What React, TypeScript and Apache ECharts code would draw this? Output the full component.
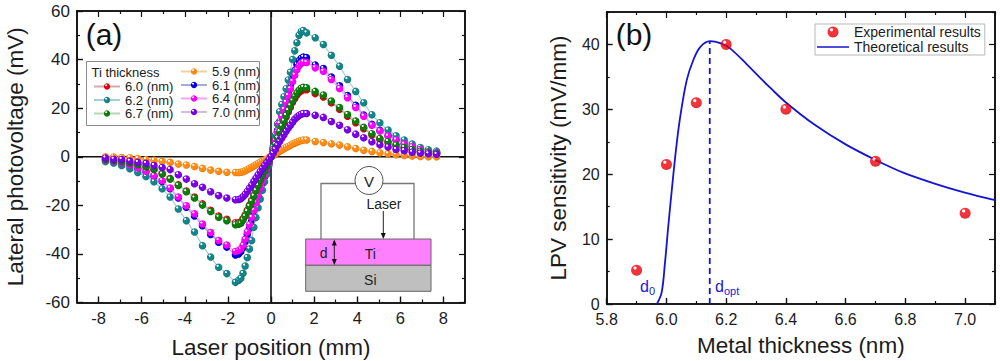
import React, { useEffect, useRef } from "react";
import * as echarts from "echarts";

const FONT = "'Liberation Sans', Arial, sans-serif";
const INK = "#1c1c1c";

// Panel (a): laser positions
const leftTailX = [-7.68, -7.3, -6.93, -6.55, -6.18, -5.8, -5.43, -5.05, -4.68, -4.3, -3.93, -3.55, -3.18, -2.8, -2.43, -2.05, -1.65];
const centerX = [-1.5, -1.4, -1.3, -1.2, -1.1, -1.0, -0.9, -0.8, -0.7, -0.6, -0.5, -0.4, -0.3, -0.2, -0.1, 0, 0.1, 0.2, 0.3, 0.4, 0.5, 0.6, 0.7, 0.8, 0.9, 1.0, 1.1, 1.2, 1.3, 1.4, 1.5];
const rightTailX = [1.65, 2.05, 2.43, 2.8, 3.18, 3.55, 3.93, 4.3, 4.68, 5.05, 5.43, 5.8, 6.18, 6.55, 6.93, 7.3, 7.68];
const positions = [...leftTailX, ...centerX, ...rightTailX];

// Panel (a): photovoltage per Ti thickness
const v59 = [0, -0.1, -0.3, -0.4, -0.7, -1.2, -1.5, -1.9, -2.3, -3, -3.4, -4, -4.8, -5.5, -6, -6.4, -6.5,
  -6.5, -6.4, -6.2, -5.8, -5.3, -4.8, -4.3, -3.8, -3.3, -2.8, -2.3, -1.8, -1.4, -0.9, -0.5, 0,
  0.5, 1.1, 1.7, 2.3, 2.8, 3.3, 3.8, 4.2, 4.7, 5.2, 5.6, 6, 6.4, 6.7, 6.9,
  6.9, 6.3, 5.9, 5.3, 4.8, 4.1, 3.4, 2.7, 2.2, 1.6, 1.2, 0.8, 0.5, 0.3, 0.1, 0, 0];
const v60 = [-0.9, -1.3, -1.9, -2.5, -3.2, -4.1, -5.1, -6.9, -9, -11.5, -14.1, -16.6, -19.4, -22, -24.4, -25.7, -27.2,
  -27.2, -26.8, -25.5, -24, -22, -20, -18, -15.8, -13.6, -11.5, -9.4, -7.5, -5.6, -3.7, -1.9, 0,
  2.2, 4.8, 7.4, 10, 12.2, 14.2, 16.4, 18.4, 20.4, 22.4, 24, 25.4, 26.6, 27.2, 27.6,
  27.6, 26, 24.6, 22.2, 19.6, 16.7, 14, 11.5, 9, 7.1, 5.8, 4.5, 3.5, 2.7, 2.1, 1.6, 1.2];
const v61 = [-1.5, -2, -2.7, -3.6, -4.8, -6.2, -8, -10.2, -13.2, -17, -20.8, -24.4, -28.4, -32, -35.2, -37.2, -40.4,
  -40, -39, -37.5, -35, -32, -29.5, -26.5, -23, -20, -16.8, -13.8, -11, -8.2, -5.6, -2.8, 0,
  3.2, 7, 10.8, 14.4, 17.5, 20.5, 23.5, 26.5, 29.5, 33, 35.5, 38, 39.5, 40.5, 41,
  40.8, 37.8, 36.3, 32.8, 29.2, 25.2, 21.2, 17.2, 13.4, 10.9, 8.7, 7.1, 5.4, 4.2, 3.1, 2.1, 1.7];
const v62 = [-2, -2.6, -3.6, -4.9, -6.5, -8.1, -10.3, -13.2, -16.6, -21.5, -26.3, -31, -36.6, -41.3, -45.5, -48.1, -51.7,
  -50.8, -50, -48, -45, -41.5, -38, -34.5, -29, -25, -21, -17.4, -13.8, -10.3, -7.2, -3.6, 0,
  4, 9, 13.5, 18.5, 21.5, 24.7, 28, 31.6, 34.8, 40, 43.6, 46.9, 50, 51.5, 52,
  51, 49, 46.2, 41.8, 37.3, 31.8, 26.9, 22.2, 17.3, 14, 11, 8.6, 6.9, 5.2, 3.8, 2.9, 2.3];
const v64 = [-1.3, -1.8, -2.5, -3.4, -4.6, -6, -7.8, -9.9, -12.9, -16.6, -20.2, -23.5, -27.7, -31.2, -34.5, -36.3, -39,
  -38.6, -38, -36.5, -34, -31, -28, -25, -22, -19, -16, -13, -10.3, -7.8, -5.2, -2.6, 0,
  3, 6.6, 10.2, 13.6, 16.6, 19.5, 22.4, 25.2, 28, 31, 33.6, 35.8, 37.5, 38.5, 39,
  38.8, 36.6, 35.2, 31.8, 28.1, 24.3, 20.3, 16.7, 13, 10.6, 8.5, 6.9, 5.2, 4.1, 3, 2, 1.6];
const v67 = [-1, -1.4, -2, -2.6, -3.3, -4.2, -5.3, -7.1, -9.2, -11.8, -14.4, -17, -19.9, -22.5, -24.9, -26.3, -28,
  -27.8, -27.4, -26, -24.5, -22.6, -20.4, -18.4, -16.2, -14, -11.8, -9.7, -7.7, -5.8, -3.9, -2, 0,
  2.3, 5, 7.7, 10.3, 12.6, 14.7, 17, 19, 21, 23, 24.8, 26.2, 27.4, 28.2, 28.6,
  28.4, 26.9, 25.4, 22.9, 20.3, 17.4, 14.7, 12.1, 9.5, 7.5, 6.2, 4.8, 3.8, 3, 2.3, 1.8, 1.4];
const v70 = [-0.5, -1, -1.1, -1.8, -2.3, -2.7, -3.6, -4.4, -5.3, -7.4, -9.2, -11.1, -12.6, -14.4, -16, -17, -17.7,
  -17.6, -17.3, -16.5, -15.5, -14.3, -13, -11.7, -10.2, -8.8, -7.5, -6.2, -4.9, -3.6, -2.4, -1.2, 0,
  1.4, 3, 4.7, 6.3, 7.7, 9.1, 10.5, 11.8, 13, 14.2, 15.4, 16.3, 17, 17.5, 17.8,
  17.8, 17.1, 16.2, 14.5, 13, 11.1, 9.3, 7.8, 6.2, 4.9, 4, 3, 2.5, 1.9, 1.5, 1.2, 1];

const thicknessNames = ["5.9 (nm)", "6.0 (nm)", "6.1 (nm)", "6.2 (nm)", "6.4 (nm)", "6.7 (nm)", "7.0 (nm)"];
const thicknessValues = [v59, v60, v61, v62, v64, v67, v70];
const ballColors = ["#ff8a14", "#e8000a", "#0000e6", "#14858a", "#ff00ff", "#0a7d0a", "#7a00e8"];
const ballRims = ["#e07000", "#b00008", "#0000b0", "#0e6a6e", "#d000d0", "#066006", "#5e00b8"];
const lineColors = ["#f5cf9e", "#d9a6ac", "#a9a9d6", "#a6cfd0", "#f2a6f2", "#b5d6b5", "#d3bdd8"];

// Panel (b)
const expThickness = [5.9, 6.0, 6.1, 6.2, 6.4, 6.7, 7.0];
const expSensitivity = [5.2, 21.5, 31, 40, 30, 22, 14];
const theoryThickness = [5.968, 5.984, 5.995, 6.006, 6.018, 6.034, 6.048, 6.068, 6.09, 6.113, 6.146, 6.18, 6.213, 6.27, 6.313, 6.348, 6.399, 6.494, 6.6, 6.7, 6.795, 6.895, 6.996, 7.1];
const theorySensitivity = [0, 1.8, 6.3, 11.9, 17.6, 24.6, 29.4, 34.5, 37.6, 39.6, 40.5, 40.2, 39.4, 36.9, 34.9, 33.3, 31.1, 27.7, 24.6, 22.2, 20.2, 18.6, 17.2, 16];
const optimumThickness = [6.145, 6.145];
const optimumSensitivity = [0, 40.5];

// Axis ticks
const aXMajor = [-8, -6, -4, -2, 0, 2, 4, 6, 8];
const aXMinor = [-7, -5, -3, -1, 1, 3, 5, 7];
const aYMajor = [-60, -40, -20, 0, 20, 40, 60];
const aYMinor = [-50, -30, -10, 10, 30, 50];
const bXMajor = [5.8, 6.0, 6.2, 6.4, 6.6, 6.8, 7.0];
const bXMinor = [5.9, 6.1, 6.3, 6.5, 6.7, 6.9, 7.1];
const bYMajor = [0, 10, 20, 30, 40];
const bYMinor = [5, 15, 25, 35, 45];

function ball(color: string, rim: string) {
  return new echarts.graphic.RadialGradient(0.36, 0.3, 0.72, [
    { offset: 0, color: "#ffffff" },
    { offset: 0.13, color: "#ffffff" },
    { offset: 0.26, color },
    { offset: 0.78, color },
    { offset: 1, color: rim },
  ]);
}

function axisSet(kind: "x" | "y", gridIndex: number, min: number, max: number, major: number[], minor: number[], name: string, nameGap: number, fmt: (v: number) => string, labelSize: number) {
  const line = { show: true, onZero: false, lineStyle: { color: "#111", width: 1.6 } };
  const base = { type: "value", gridIndex, min, max, splitLine: { show: false } };
  const pos = kind === "x" ? ["bottom", "top"] : ["left", "right"];
  const main = {
    ...base, position: pos[0], name, nameLocation: "middle", nameGap,
    nameTextStyle: { fontFamily: FONT, fontSize: 22.5, color: INK },
    axisLine: line,
    axisTick: { show: true, inside: true, length: 6, customValues: major, lineStyle: { color: "#111", width: 1.4 } },
    axisLabel: { show: true, customValues: major, formatter: fmt, fontFamily: FONT, fontSize: labelSize, color: INK, margin: 7 },
  };
  const extra = (p: string, vals: number[], length: number) => ({
    ...base, position: p,
    axisLine: line,
    axisTick: { show: true, inside: true, length, customValues: vals, lineStyle: { color: "#111", width: 1.2 } },
    axisLabel: { show: false },
  });
  return [main, extra(pos[0], minor, 3), extra(pos[1], major, 6), extra(pos[1], minor, 3)];
}

function arrowHead(x: number, y: number, dir: number) {
  return { type: "polygon", z: 5, silent: true, shape: { points: [[x - 2.5, y - 6 * dir], [x + 2.5, y - 6 * dir], [x, y]] }, style: { fill: "#111" } };
}

function label(text: string, x: number, y: number, size: number, color = "#222") {
  return { type: "text", z: 6, silent: true, x, y, style: { text, x: 0, y: 0, fill: color, fontFamily: FONT, fontSize: size, textAlign: "center", textVerticalAlign: "middle" } };
}

function subLabel(sub: string, x: number, y: number) {
  return {
    type: "text", z: 6, silent: true, x, y,
    style: {
      text: `{a|d}{b|${sub}}`, fontFamily: FONT, fill: "#1a1ad2",
      rich: {
        a: { fontFamily: FONT, fontSize: 16, fill: "#1a1ad2", color: "#1a1ad2" },
        b: { fontFamily: FONT, fontSize: 11, fill: "#1a1ad2", color: "#1a1ad2", padding: [8, 0, 0, 0] },
      },
    },
  };
}

const THEORY_ICON = "path://M0 0H0.01V0.01H0ZM0 4.7H32V6.3H0ZM32 11H31.99V10.99H32Z";

export default function App() {
  const ref = useRef<HTMLDivElement>(null);
  useEffect(() => {
    document.body.style.margin = "0";
    const chart = echarts.init(ref.current!, null, { renderer: "svg" });
    const fmt0 = (v: number) => String(v);
    const fmt1 = (v: number) => v.toFixed(1);
    const curves = thicknessNames.map((name, i) => ({
      name, type: "line", xAxisIndex: 0, yAxisIndex: 0, z: 3 + i,
      data: positions.map((x, j) => [x, thicknessValues[i][j]]),
      symbol: "circle", symbolSize: 7.5, showSymbol: true,
      lineStyle: { color: lineColors[i], width: 1.2 },
      itemStyle: { color: ball(ballColors[i], ballRims[i]) },
    }));
    chart.setOption({
      animation: false,
      backgroundColor: "#fff",
      textStyle: { fontFamily: FONT },
      grid: [
        { left: 77, top: 11, width: 388, height: 291.5, outerBoundsMode: "none" },
        { left: 606.7, top: 12, width: 388.3, height: 292, outerBoundsMode: "none" },
      ],
      xAxis: [
        ...axisSet("x", 0, -9, 9, aXMajor, aXMinor, "Laser position (mm)", 33, fmt0, 16.5),
        ...axisSet("x", 1, 5.8, 7.1, bXMajor, bXMinor, "Metal thickness (nm)", 30, fmt1, 16),
      ],
      yAxis: [
        ...axisSet("y", 0, -60, 60, aYMajor, aYMinor, "Lateral photovoltage (mV)", 50, fmt0, 17),
        ...axisSet("y", 1, 0, 45, bYMajor, bYMinor, "LPV sensitivity (mV/mm)", 37, fmt0, 16),
      ],
      legend: [
        {
          left: 93, top: 80, padding: 0, orient: "vertical", itemGap: 0.5, itemWidth: 26, itemHeight: 8, selectedMode: false, z: 7,
          data: ["6.0 (nm)", "6.2 (nm)", "6.7 (nm)"],
          textStyle: { fontFamily: FONT, fontSize: 13, color: INK },
        },
        {
          left: 180, top: 65, padding: 0, orient: "vertical", itemGap: 0.5, itemWidth: 26, itemHeight: 8, selectedMode: false, z: 7,
          data: ["5.9 (nm)", "6.1 (nm)", "6.4 (nm)", "7.0 (nm)"],
          textStyle: { fontFamily: FONT, fontSize: 13, color: INK },
        },
        {
          left: 815, top: 24, orient: "vertical", itemGap: 1, itemWidth: 32, itemHeight: 11, selectedMode: false, z: 7,
          padding: [1, 4, 1, 2],
          backgroundColor: "#fff", borderColor: "#b8b8b8", borderWidth: 1,
          data: [
            { name: "Experimental results", icon: "circle" },
            { name: "Theoretical results", icon: THEORY_ICON },
          ],
          textStyle: { fontFamily: FONT, fontSize: 14, color: INK },
        },
      ],
      series: [
        {
          name: "zero-x", type: "line", xAxisIndex: 0, yAxisIndex: 0, z: 2, symbol: "none",
          data: [[-9, 0], [9, 0]], lineStyle: { color: "#111", width: 1.6 },
        },
        {
          name: "zero-y", type: "line", xAxisIndex: 0, yAxisIndex: 0, z: 2, symbol: "none",
          data: [[0, -60], [0, 60]], lineStyle: { color: "#111", width: 1.6 },
        },
        ...curves,
        {
          name: "Theoretical results", type: "line", xAxisIndex: 4, yAxisIndex: 4, z: 3, symbol: "none", smooth: 0.35,
          data: theoryThickness.map((x, i) => [x, theorySensitivity[i]]),
          lineStyle: { color: "#1414d2", width: 1.8 },
          itemStyle: { color: "#1414d2" },
        },
        {
          name: "optimum", type: "line", xAxisIndex: 4, yAxisIndex: 4, z: 3, symbol: "none",
          data: optimumThickness.map((x, i) => [x, optimumSensitivity[i]]),
          lineStyle: { color: "#1414d2", width: 1.8, type: [6, 4] },
        },
        {
          name: "Experimental results", type: "scatter", xAxisIndex: 4, yAxisIndex: 4, z: 5, symbol: "circle", symbolSize: 11,
          data: expThickness.map((x, i) => [x, expSensitivity[i]]),
          itemStyle: { color: ball("#f00008", "#c00006") },
        },
      ],
      graphic: [
        label("(a)", 104, 34, 30, "#111"),
        label("(b)", 634, 34, 30, "#111"),
        { type: "rect", z: 3, silent: true, shape: { x: 86.5, y: 61.5, width: 173, height: 64 }, style: { fill: "#fff", stroke: "#8c8c8c", lineWidth: 1 } },
        label("Ti thickness", 125.5, 72.5, 13, INK),
        // Inset: device sketch
        { type: "polyline", z: 4, silent: true, shape: { points: [[321, 239], [321, 183.5], [414, 183.5], [414, 239]] }, style: { stroke: "#777", lineWidth: 1.3, fill: "none" } },
        { type: "circle", z: 5, silent: true, shape: { cx: 369, cy: 180.5, r: 14 }, style: { fill: "#fff", stroke: "#555", lineWidth: 1 } },
        label("V", 369, 181, 15),
        label("Laser", 384, 204, 14),
        { type: "rect", z: 4, silent: true, shape: { x: 305.7, y: 239, width: 125.3, height: 26.3 }, style: { fill: "#ff80ff", stroke: "#666", lineWidth: 1 } },
        { type: "rect", z: 4, silent: true, shape: { x: 305.7, y: 265.3, width: 125.3, height: 26 }, style: { fill: "#bfbfbf", stroke: "#666", lineWidth: 1 } },
        { type: "line", z: 5, silent: true, shape: { x1: 383.3, y1: 211, x2: 383.3, y2: 235 }, style: { stroke: "#222", lineWidth: 1 } },
        arrowHead(383.3, 239, 1),
        { type: "line", z: 5, silent: true, shape: { x1: 334.3, y1: 241, x2: 334.3, y2: 263 }, style: { stroke: "#222", lineWidth: 1 } },
        arrowHead(334.3, 265, 1),
        arrowHead(334.3, 239.5, -1),
        label("d", 323.7, 252.5, 14),
        label("Ti", 370.3, 253.5, 14),
        label("Si", 370.3, 280, 14),
        subLabel("0", 640, 277),
        subLabel("opt", 715, 277),
      ],
    });
    return () => chart.dispose();
  }, []);
  return <div ref={ref} style={{ position: "fixed", left: 0, top: 0, width: 1000, height: 361 }} />;
}
